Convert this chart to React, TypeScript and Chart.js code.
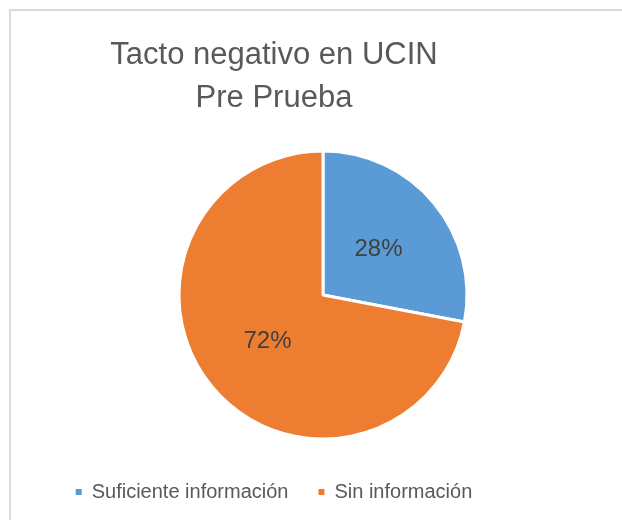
import React, { useEffect, useRef } from "react";
import { Chart, registerables } from "chart.js";

Chart.register(...registerables);

// ---- data ----
const categories = ["Suficiente información", "Sin información"];
const values = [28, 72];
const valueLabels = ["28%", "72%"];
const sliceColors = ["#5B9BD5", "#ED7D31"];
const titleLines = ["Tacto negativo en UCIN", "Pre Prueba"];

const FONT = '"Liberation Sans", Arial, sans-serif';

const sliceLabelPlugin = {
  id: "sliceLabels",
  afterDatasetsDraw(chart: any) {
    const meta = chart.getDatasetMeta(0);
    const ctx = chart.ctx;
    ctx.save();
    ctx.font = "24px " + FONT;
    ctx.fillStyle = "#404040";
    ctx.textAlign = "center";
    ctx.textBaseline = "middle";
    meta.data.forEach((arc: any, i: number) => {
      const p = arc.tooltipPosition(false);
      ctx.fillText(valueLabels[i], p.x, p.y);
    });
    ctx.restore();
  },
};

const plotShiftPlugin = {
  id: "plotShift",
  afterLayout(chart: any) {
    const a = chart.chartArea;
    a.left += 98;
    a.width = a.right - a.left;
  },
};

export default function App() {
  const ref = useRef<HTMLCanvasElement | null>(null);

  useEffect(() => {
    if (!ref.current) return;
    const baseGen = (Chart as any).overrides.doughnut.plugins.legend.labels.generateLabels;
    const chart = new Chart(ref.current, {
      type: "pie",
      data: {
        labels: categories,
        datasets: [
          {
            data: values,
            backgroundColor: sliceColors,
            borderColor: "#FFFFFF",
            borderWidth: 3,
            radius: 144,
          } as any,
        ],
      },
      options: {
        responsive: false,
        animation: false,
        events: [],
        layout: { padding: { top: 11, left: 0, right: 74, bottom: 8 } },
        plugins: {
          title: {
            display: true,
            text: titleLines,
            color: "#595959",
            font: { family: FONT, size: 31, weight: "normal", lineHeight: 1.387 },
            padding: { top: 23, bottom: 18 },
          },
          legend: {
            display: true,
            position: "bottom",
            labels: {
              color: "#595959",
              font: { family: FONT, size: 20 },
              boxWidth: 6,
              boxHeight: 6,
              padding: 30,
              generateLabels: (c: any) =>
                baseGen(c).map((it: any) => ({ ...it, lineWidth: 0, strokeStyle: "rgba(0,0,0,0)" })),
            },
          },
          tooltip: { enabled: false },
        },
      },
      plugins: [sliceLabelPlugin, plotShiftPlugin],
    });
    return () => chart.destroy();
  }, []);

  return (
    <div
      style={{
        position: "fixed",
        left: 0,
        top: 0,
        width: 622,
        height: 520,
        overflow: "hidden",
        background: "#FFFFFF",
      }}
    >
      <div
        style={{
          position: "absolute",
          left: 9,
          top: 9,
          width: 2000,
          height: 2000,
          borderLeft: "2px solid #D9D9D9",
          borderTop: "2px solid #D9D9D9",
          borderRight: "none",
          borderBottom: "none",
        }}
      />
      <canvas ref={ref} width={622} height={520} style={{ position: "absolute", left: 0, top: 0 }} />
    </div>
  );
}
